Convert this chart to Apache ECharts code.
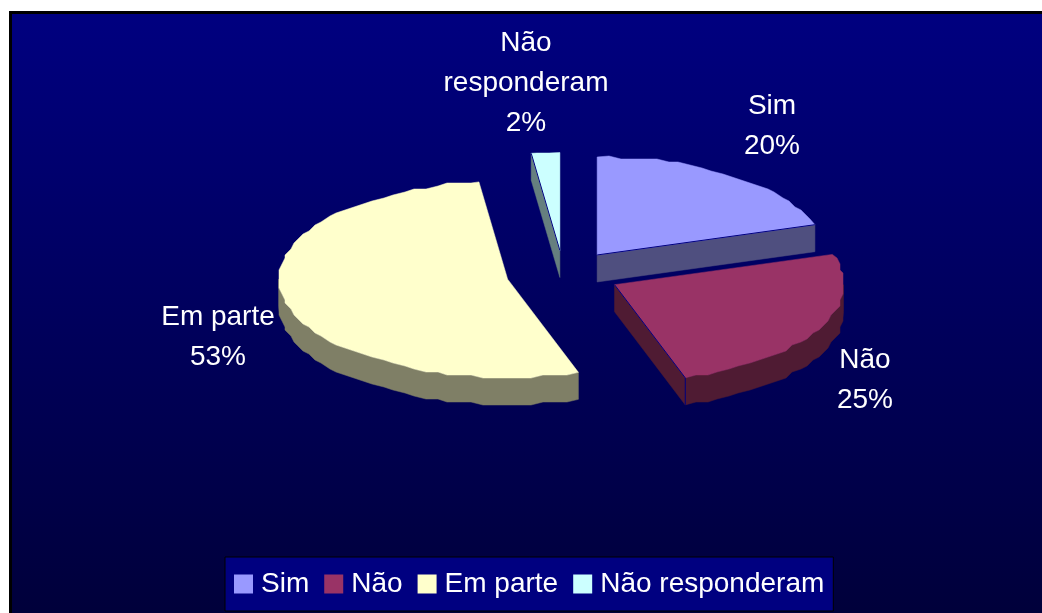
<!DOCTYPE html>
<html><head><meta charset="utf-8">
<style>html,body{margin:0;padding:0;background:#fff;overflow:hidden}#c{width:1042px;height:613px}</style>
<script src="https://cdn.jsdelivr.net/npm/echarts@6/dist/echarts.min.js"></script>
</head><body><div id="c"></div>
<script>
var categories = ['Sim', 'Não', 'Em parte', 'Não responderam'];
var values = [20, 25, 53, 2];
var labelNames = ['Sim', 'Não', 'Em parte', 'Não\nresponderam'];

var topColors = ['#9999ff', '#993366', '#ffffcc', '#ccffff'];
var wallColors = ['#4f4f7f', '#4f1b33', '#7f7f66', '#667f7f'];
var labelAnchors = [[772, 126], [865, 380], [218, 337], [526, 83]];
var drawOrder = [3, 2, 0, 1];

var CX = 563.5, CY = 274, RX = 229, RY = 98, DEPTH = 27, EXPLODE_X = 0.25, EXPLODE_Y = 0.24, STEP = Math.PI / 60, SNAP = 3;
var total = values.reduce(function (a, b) { return a + b; }, 0);

function sliceAngles(i) {
  var before = values.slice(0, i).reduce(function (a, b) { return a + b; }, 0);
  return [before / total * 2 * Math.PI, (before + values[i]) / total * 2 * Math.PI];
}
function rimPoints(apex, a0, a1) {
  var angles = [a0];
  for (var g = Math.floor(a0 / STEP + 1e-6) + 1; g * STEP < a1 - 1e-6; g++) angles.push(g * STEP);
  angles.push(a1);
  return angles.map(function (t, k) {
    var x = apex[0] + RX * Math.sin(t), y = apex[1] - RY * Math.cos(t);
    if (k > 0 && k < angles.length - 1) { x = Math.round(x / SNAP) * SNAP; y = Math.round(y / SNAP) * SNAP; }
    return [x, y];
  });
}
function down(pts) { return pts.map(function (p) { return [p[0], p[1] + DEPTH]; }); }
function poly(points, fill) {
  return { type: 'polygon', shape: { points: points }, style: { fill: fill, stroke: fill, lineWidth: 0.5 } };
}
function line(a, b) {
  return { type: 'line', shape: { x1: a[0], y1: a[1], x2: b[0], y2: b[1] }, style: { stroke: '#000080', lineWidth: 1 } };
}
function renderSlice(i) {
  var ang = sliceAngles(i), a0 = ang[0], a1 = ang[1], mid = (a0 + a1) / 2;
  var apex = [CX + EXPLODE_X * RX * Math.sin(mid), CY - EXPLODE_Y * RY * Math.cos(mid)];
  var rim = rimPoints(apex, a0, a1);
  var kids = [], first = rim[0], last = rim[rim.length - 1];
  // outer wall: only the part of the rim facing the viewer
  var fa0 = Math.max(a0, Math.PI / 2), fa1 = Math.min(a1, Math.PI * 1.5);
  if (fa1 > fa0) {
    var front = rimPoints(apex, fa0, fa1);
    kids.push(poly(front.concat(down(front).reverse()), wallColors[i]));
  }
  // cut walls
  if (Math.sin(a1) > 0.001) {
    kids.push(poly([apex, last, [last[0], last[1] + DEPTH], [apex[0], apex[1] + DEPTH]], wallColors[i]));
  }
  if (Math.sin(a0) < -0.001) {
    kids.push(poly([apex, first, [first[0], first[1] + DEPTH], [apex[0], apex[1] + DEPTH]], wallColors[i]));
  }
  kids.push(poly([apex].concat(rim), topColors[i]));
  if (Math.sin(a1) > 0.001) {
    kids.push(line(apex, last));
    if (a1 > Math.PI / 2) kids.push(line(last, [last[0], last[1] + DEPTH]));
  }
  if (Math.sin(a0) < -0.001) kids.push(line(apex, first));
  kids.push({
    type: 'text',
    style: {
      x: labelAnchors[i][0], y: labelAnchors[i][1],
      text: labelNames[i] + '\n' + values[i] + '%',
      fill: '#ffffff', align: 'center', verticalAlign: 'middle',
      font: '28px "Liberation Sans"', lineHeight: 40
    }
  });
  return { type: 'group', children: kids };
}

var series = drawOrder.map(function (i) {
  return {
    type: 'custom', name: categories[i], coordinateSystem: 'none',
    data: [values[i]], silent: true, animation: false,
    itemStyle: { color: topColors[i] },
    renderItem: function () { return renderSlice(i); }
  };
});

var chart = echarts.init(document.getElementById('c'), null, { renderer: 'canvas' });
chart.setOption({
  animation: false,
  backgroundColor: '#ffffff',
  graphic: [{
    type: 'rect', z: -10, silent: true,
    shape: { x: 10.5, y: 12.5, width: 1050, height: 620 },
    style: {
      stroke: '#000000', lineWidth: 3,
      fill: new echarts.graphic.LinearGradient(0, 0, 0, 1, [
        { offset: 0, color: '#000080' }, { offset: 1, color: '#000038' }
      ])
    }
  }],
  legend: {
    data: categories, left: 225, top: 557, orient: 'horizontal',
    icon: 'rect', itemWidth: 19, itemHeight: 19, itemGap: 15,
    padding: [13, 9, 13, 9], backgroundColor: '#000080', borderColor: '#000000', borderWidth: 1,
    selectedMode: false,
    textStyle: { color: '#ffffff', fontSize: 28, fontFamily: '"Liberation Sans"', padding: [0, 0, 0, 3] }
  },
  series: series
});
</script></body></html>
